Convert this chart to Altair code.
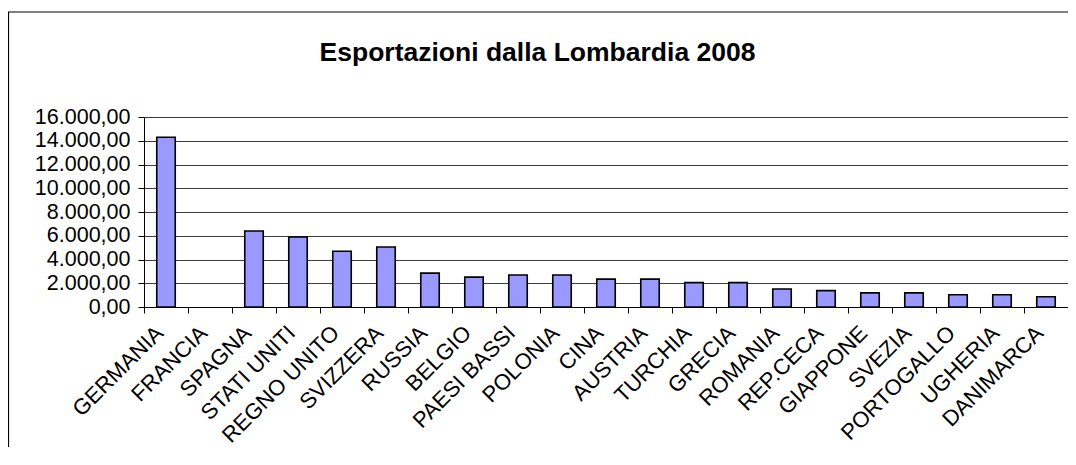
import altair as alt
import pandas as pd

countries = ["GERMANIA", "FRANCIA", "SPAGNA", "STATI UNITI", "REGNO UNITO", "SVIZZERA",
             "RUSSIA", "BELGIO", "PAESI BASSI", "POLONIA", "CINA", "AUSTRIA", "TURCHIA",
             "GRECIA", "ROMANIA", "REP.CECA", "GIAPPONE", "SVEZIA", "PORTOGALLO",
             "UGHERIA", "DANIMARCA"]
exports = [14300, None, 6400, 5900, 4700, 5050, 2850, 2520, 2700, 2700, 2350, 2350,
           2050, 2050, 1520, 1380, 1190, 1190, 1030, 1030, 860]
y_ticks = [0, 2000, 4000, 6000, 8000, 10000, 12000, 14000, 16000]
title_text = ["Esportazioni dalla Lombardia 2008"]

df = pd.DataFrame({"Paese": countries, "Valore": exports})

FONT = "Liberation Sans"

bars = alt.Chart(df).mark_bar(
    fill="#9999FF", stroke="#000000", strokeWidth=1.6, width={"band": 0.42}
).encode(
    x=alt.X("Paese:N", sort=countries,
            scale=alt.Scale(domain=countries, paddingInner=0, paddingOuter=0),
            axis=alt.Axis(title=None, labelAngle=-45, labelAlign="right",
                          labelBaseline="top", labelPadding=9, labelOffset=-14,
                          labelFontSize=22, labelFont=FONT, labelColor="#000000",
                          tickBand="extent", tickSize=6, tickColor="#000000",
                          domainColor="#000000", grid=False, labelLimit=400)),
    y=alt.Y("Valore:Q", scale=alt.Scale(domain=[0, 16000], nice=False),
            axis=alt.Axis(title=None, values=y_ticks, labelFontSize=21.5, labelFont=FONT,
                          labelColor="#000000", labelPadding=8, tickSize=6,
                          tickColor="#000000", domainColor="#000000",
                          grid=True, gridColor="#3a3a3a", gridWidth=1,
                          labelExpr="replace(replace(replace(format(datum.value, ',.2f'), ',', '_'), '.', ','), '_', '.')"))
)

frame = alt.Chart(alt.Data(values=[{"a": 1}])).mark_rect(
    fill="#FFFFFF", fillOpacity=0, stroke="#000000", strokeWidth=1.2
).encode(
    x=alt.value(-135.5), x2=alt.value(1200), y=alt.value(-105), y2=alt.value(500)
)

title = alt.Chart(pd.DataFrame({"t": title_text})).mark_text(
    font=FONT, fontSize=26.5, fontWeight="bold", color="#000000",
    align="center", baseline="alphabetic"
).encode(
    text="t:N", x=alt.value(393.5), y=alt.value(-56)
)

chart = alt.layer(frame, bars, title).properties(
    width=924, height=190,
    autosize=alt.AutoSizeParams(type="none"),
    padding={"left": 136, "top": 109, "right": 0, "bottom": 140},
).configure_view(
    fill="#C0C0C0", stroke="#808080", strokeWidth=1
).configure(background="#FFFFFF")

chart.save("out.html", embed_options={"renderer": "svg", "actions": False})
